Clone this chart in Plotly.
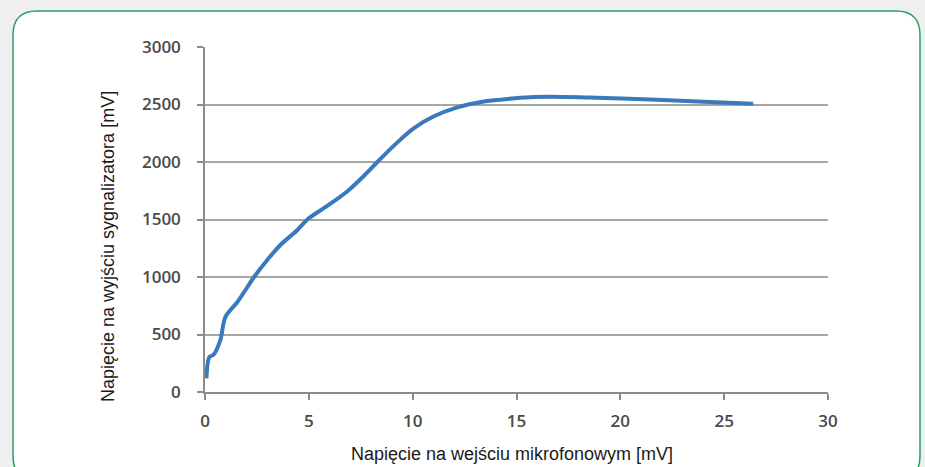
import plotly.graph_objects as go

# Data
x_mv_in = [0.07, 0.21, 0.40, 0.74, 0.98, 1.56, 2.43, 3.0, 3.63, 4.45, 4.93, 5.9, 6.86, 7.6, 8.3, 9.2, 10.03, 11.0, 12.15, 13.3, 14.22, 15.18, 16.63, 18.5, 21.45, 24.0, 26.4]
y_mv_out = [119, 304, 322, 452, 652, 783, 1017, 1148, 1278, 1409, 1500, 1620, 1746, 1870, 2000, 2160, 2290, 2395, 2475, 2522, 2542, 2558, 2567, 2560, 2544, 2525, 2506]

x_ticks = [0, 5, 10, 15, 20, 25, 30]
y_ticks = [0, 500, 1000, 1500, 2000, 2500, 3000]

x_title = "Napięcie na wejściu mikrofonowym [mV]"
y_title = "Napięcie na wyjściu sygnalizatora [mV]"

W, H = 925, 467
L, R, T, B = 205, 828, 47, 392
pw, ph = R - L, B - T

def px(X):
    return (X - L) / pw

def py(Y):
    return (B - Y) / ph

fig = go.Figure()
fig.add_trace(go.Scatter(
    x=x_mv_in, y=y_mv_out, mode="lines",
    line=dict(color="#3a79bb", width=4, shape="spline", smoothing=0.9),
    showlegend=False, hoverinfo="skip",
))

# rounded green frame
x0, x1, y0, y1, r = 13, 920, 11, 480, 24
path = (
    f"M {px(x0)} {py(y0 + r)} "
    f"Q {px(x0)} {py(y0)} {px(x0 + r)} {py(y0)} "
    f"L {px(x1 - r)} {py(y0)} "
    f"Q {px(x1)} {py(y0)} {px(x1)} {py(y0 + r)} "
    f"L {px(x1)} {py(y1 - r)} "
    f"Q {px(x1)} {py(y1)} {px(x1 - r)} {py(y1)} "
    f"L {px(x0 + r)} {py(y1)} "
    f"Q {px(x0)} {py(y1)} {px(x0)} {py(y1 - r)} Z"
)
fig.add_shape(type="path", xref="paper", yref="paper", path=path,
              line=dict(color="#2aa160", width=1.5), fillcolor="#ffffff", layer="below")

tick_font = dict(family="Open Sans, DejaVu Sans, sans-serif", size=17, color="#4a4a4a", weight=600)
title_font = dict(family="Liberation Sans, Arial, sans-serif", size=18, color="#1a1a1a")

fig.add_annotation(text=x_title, xref="paper", yref="paper", x=px(511.5), y=py(454),
                   xanchor="center", yanchor="middle", showarrow=False, font=title_font)
fig.add_annotation(text=y_title, xref="paper", yref="paper", x=px(108), y=py(247),
                   xanchor="center", yanchor="middle", showarrow=False, font=title_font,
                   textangle=-90)

fig.update_layout(
    width=W, height=H,
    margin=dict(l=L, r=W - R, t=T, b=H - B),
    paper_bgcolor="#efefef",
    plot_bgcolor="rgba(0,0,0,0)",
    xaxis=dict(
        range=[0, 30], tickvals=x_ticks, ticktext=[str(v) for v in x_ticks],
        showgrid=False, zeroline=False,
        showline=True, linecolor="#8c8c8c", linewidth=1.5,
        ticks="outside", ticklen=6, tickcolor="#8c8c8c", tickwidth=1.5,
        tickfont=tick_font, ticklabelstandoff=7,
    ),
    yaxis=dict(
        range=[0, 3000], tickvals=y_ticks, ticktext=[str(v) for v in y_ticks],
        showgrid=True, gridcolor="#a6a6a6", gridwidth=1.5, zeroline=False,
        showline=True, linecolor="#8c8c8c", linewidth=1.5,
        ticks="outside", ticklen=6, tickcolor="#8c8c8c", tickwidth=1.5,
        tickfont=tick_font, ticklabelstandoff=13,
    ),
)

fig.write_html("out.html", config={"displayModeBar": False},
               post_script="document.body.style.margin='0';")
